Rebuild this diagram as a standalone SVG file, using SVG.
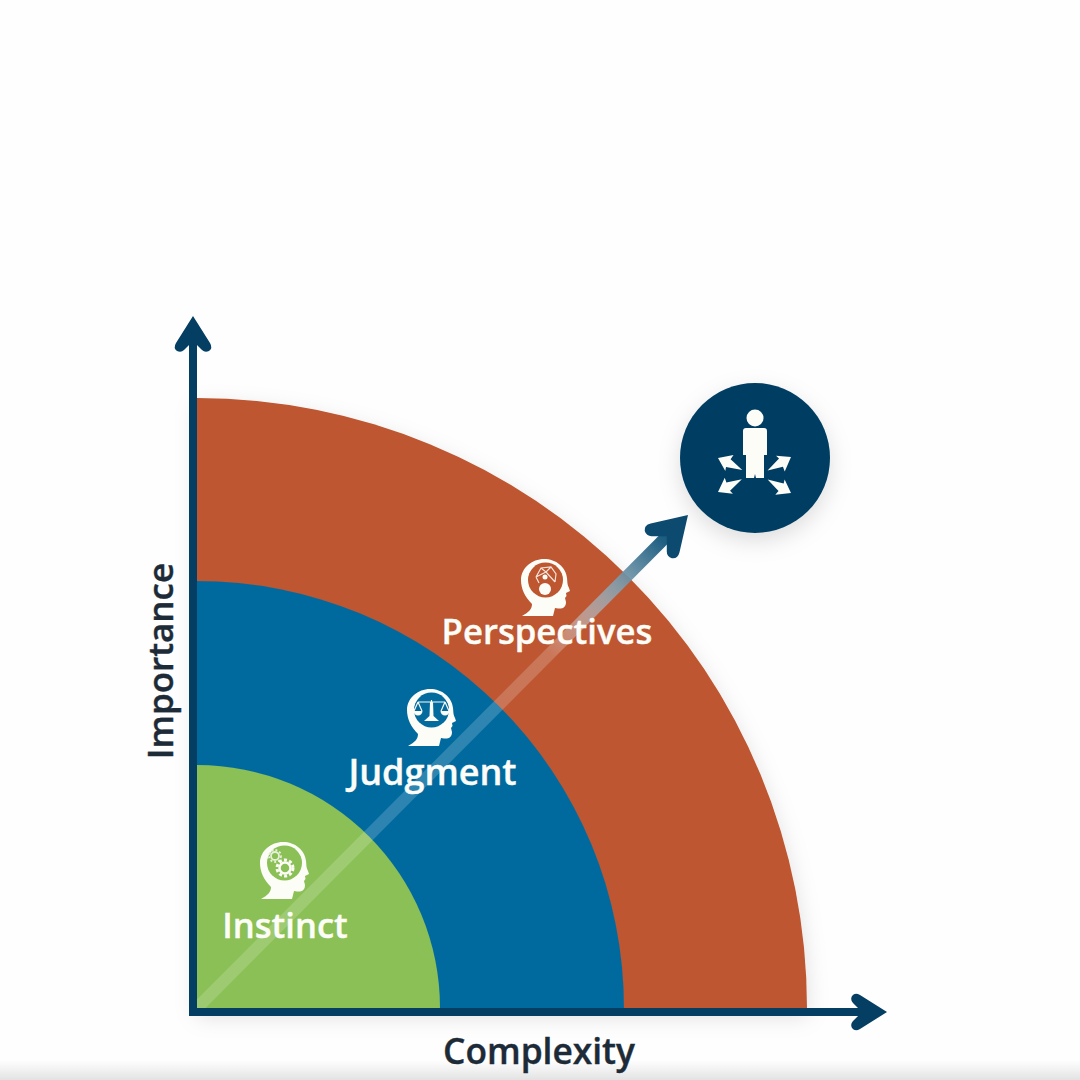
<svg xmlns="http://www.w3.org/2000/svg" width="1080" height="1080" viewBox="0 0 1080 1080">
<style>
.lbl{font-family:"Open Sans","Noto Sans","Liberation Sans",sans-serif;font-weight:600;fill:#fdfdf8;stroke:#fdfdf8;stroke-width:.4;text-anchor:middle}
.axl{font-family:"Open Sans","Noto Sans","Liberation Sans",sans-serif;font-weight:600;fill:#1d2b38;stroke:#1d2b38;stroke-width:.4;text-anchor:middle}
.ax{fill:none;stroke:#043e62;stroke-width:8}
.navy{fill:#043e62}
.w{fill:#fdfdf8}
.wl{fill:none;stroke:#fdfdf8;stroke-width:1.200}
</style>
<defs>
<linearGradient id="diag" gradientUnits="userSpaceOnUse" x1="197" y1="1008" x2="687" y2="516">
<stop offset="0" stop-color="#fff" stop-opacity=".16"/>
<stop offset=".72" stop-color="#fff" stop-opacity=".19"/>
<stop offset=".86" stop-color="#7f9fb0" stop-opacity=".9"/>
<stop offset=".95" stop-color="#1f5f82"/>
<stop offset="1" stop-color="#0c4a70"/>
</linearGradient>
<linearGradient id="bottom" x1="0" y1="0" x2="0" y2="1">
<stop offset="0" stop-color="#e6e6e6" stop-opacity="0"/>
<stop offset="1" stop-color="#e2e2e2"/>
</linearGradient>
<filter id="sh" x="-15%" y="-15%" width="130%" height="135%">
<feDropShadow dx="0" dy="8" stdDeviation="11" flood-color="#000" flood-opacity=".13"/>
</filter>
<path id="head" d="M-23 35C-16 31-13 28-13 23C-20 16-24 8-24-1C-24-13-13-22-1-22C11-22 21-14 22-3C22.500 1 22 3 24 7L25 10L21 12L21.500 15L20 17L21 21C21 26 18 28 13 27.500L10 27L8 35Z"/>
<path id="ahead" d="M0 0L17 27Q20 32 16 35Q12 37 9 34L0 25L-9 34Q-12 37-16 35Q-20 32-17 27Z"/>
<path id="arr" d="M0 0L13 -9L12 -4L27 1L11 5L12 9Z"/>
</defs>
<rect width="1080" height="1080" fill="#fefefe"/>
<rect y="1060" width="1080" height="20" fill="url(#bottom)"/>
<g id="chart-rings" filter="url(#sh)">
<path id="ring-perspectives" d="M197 398A610 610 0 0 1 807 1008H197Z" fill="#be5630"/>
<path id="ring-judgment" d="M197 581A427 427 0 0 1 624 1008H197Z" fill="#046b9f"/>
<path id="ring-instinct" d="M197 765A243 243 0 0 1 440 1008H197Z" fill="#8bc057"/>
</g>
<g id="connectors">
<path d="M197 1008L668 535" fill="none" stroke="url(#diag)" stroke-width="12"/>
<use href="#ahead" transform="translate(688 515) rotate(45) scale(1.200)" fill="#0c4a70"/>
<path class="ax" d="M193 1016V335M189 1012H865"/>
<use href="#ahead" class="navy" transform="translate(193 316)"/>
<use href="#ahead" class="navy" transform="translate(887 1012) rotate(90)"/>
</g>
<g id="node-instinct">
<use href="#head" x="284" y="864" class="w"/>
<circle cx="284.500" cy="863" r="17.500" fill="#8bc057"/>
<circle cx="275" cy="856" r="4" fill="none" stroke="#e6f0d6" stroke-width="1.800"/>
<circle cx="275" cy="856" r="6" fill="none" stroke="#e6f0d6" stroke-width="1.800" stroke-dasharray="2 2"/>
<circle cx="285" cy="868" r="5.500" fill="none" stroke="#fdfdf8" stroke-width="2.500"/>
<circle cx="285" cy="868" r="8" fill="none" stroke="#fdfdf8" stroke-width="3" stroke-dasharray="3 2.200"/>
<text class="lbl" x="285" y="938" font-size="34.600">Instinct</text>
</g>
<g id="node-judgment">
<use href="#head" x="431" y="711" class="w"/>
<circle cx="431.500" cy="710" r="17.500" fill="#046b9f"/>
<path class="wl" d="M418 702H445M431.500 700V716M418 702L414 711M418 702L422 711M445 702L441 711M445 702L449 711"/>
<path class="w" d="M413.500 711H422.500A4.500 4.500 0 0 1 413.500 711ZM440.500 711H449.500A4.500 4.500 0 0 1 440.500 711ZM430 702H433L433.500 716L439 721H424L429.500 716Z"/>
<text class="lbl" x="432.500" y="785" font-size="36">Judgment</text>
</g>
<g id="node-perspectives">
<use href="#head" x="545" y="581" class="w"/>
<circle cx="545.500" cy="580" r="17.500" fill="#be5630"/>
<path class="wl" d="M536 577L541 568L551 567L556 574L555 582M536 577L546 572L555 582M541 568L546 572L551 567M536 577L539 583" opacity=".85"/>
<circle cx="545" cy="589" r="6" class="w"/>
<circle cx="545" cy="577" r="2.500" class="w"/>
<text class="lbl" x="547" y="644" font-size="34.700">Perspectives</text>
</g>
<g id="node-person">
<circle cx="755" cy="458" r="75" class="navy" filter="url(#sh)"/>
<circle cx="755" cy="418" r="8.500" class="w"/>
<path class="w" d="M746 428H764Q767 428 767 431V455H764V478H756L755 474L754 478H746V455H743V431Q743 428 746 428Z"/>
<use href="#arr" transform="translate(718 458) rotate(24)" class="w"/>
<use href="#arr" transform="translate(791 457) rotate(148)" class="w"/>
<use href="#arr" transform="translate(718 492) rotate(-30)" class="w"/>
<use href="#arr" transform="translate(791 493) rotate(-152)" class="w"/>
</g>
<text id="label-complexity" class="axl" x="539" y="1064" font-size="35.300">Complexity</text>
<text id="label-importance" class="axl" transform="translate(173 661) rotate(-90)" font-size="35">Importance</text>
</svg>
